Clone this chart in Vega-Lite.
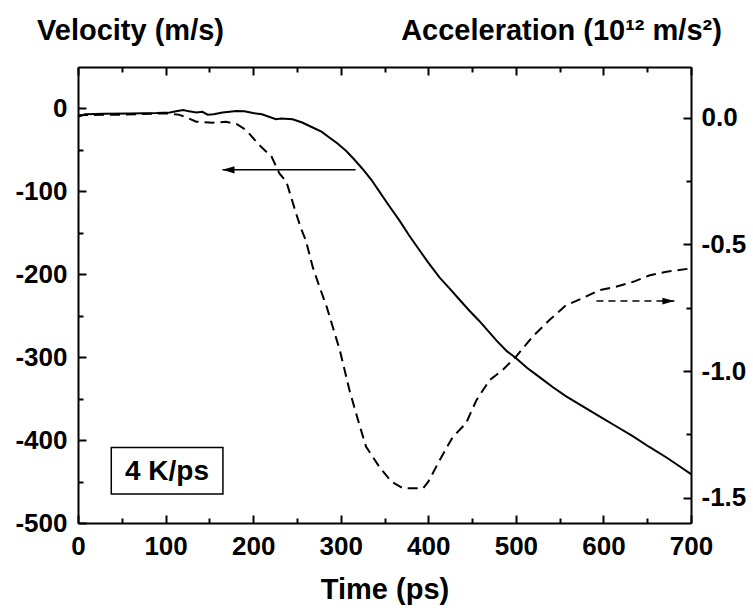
{
  "$schema": "https://vega.github.io/schema/vega-lite/v6.json",
  "width": 613,
  "height": 456,
  "autosize": {"type": "none"},
  "padding": {"left": 78, "top": 67, "right": 62, "bottom": 89},
  "background": "white",
  "config": {
    "view": {"stroke": null},
    "font": "Liberation Sans",
    "axis": {
      "grid": false,
      "ticks": true,
      "domainColor": "#000000",
      "domainWidth": 2,
      "tickColor": "#000000",
      "tickOpacity": 1,
      "tickWidth": 2,
      "zindex": 2,
      "labelFont": "Liberation Sans",
      "labelFontWeight": "bold",
      "labelFontSize": 26,
      "labelColor": "black",
      "labelFlush": false,
      "labelOverlap": false,
      "titleFont": "Liberation Sans",
      "titleFontWeight": "bold",
      "titleFontSize": 29,
      "titleColor": "black"
    }
  },
  "datasets": {
    "vel": [
      {"t": 0, "v": -10}, {"t": 8, "v": -7}, {"t": 30, "v": -6.5}, {"t": 60, "v": -6}, {"t": 90, "v": -5.5},
      {"t": 105, "v": -4.8}, {"t": 112, "v": -3.5}, {"t": 120, "v": -2}, {"t": 127, "v": -3.5}, {"t": 135, "v": -4.8},
      {"t": 142, "v": -4}, {"t": 148, "v": -7.5}, {"t": 155, "v": -7}, {"t": 165, "v": -5}, {"t": 181, "v": -3},
      {"t": 190, "v": -3.5}, {"t": 200, "v": -5.5}, {"t": 210, "v": -7}, {"t": 218, "v": -10}, {"t": 226, "v": -13},
      {"t": 232, "v": -12}, {"t": 245, "v": -13}, {"t": 256, "v": -17}, {"t": 268, "v": -23}, {"t": 278, "v": -28},
      {"t": 287, "v": -35}, {"t": 296, "v": -42}, {"t": 306, "v": -51}, {"t": 315, "v": -61}, {"t": 325, "v": -73},
      {"t": 335, "v": -86}, {"t": 344, "v": -100}, {"t": 355, "v": -117}, {"t": 367, "v": -135}, {"t": 378, "v": -153},
      {"t": 390, "v": -171}, {"t": 400, "v": -186}, {"t": 413, "v": -204}, {"t": 425, "v": -218}, {"t": 436, "v": -231},
      {"t": 447, "v": -244}, {"t": 458, "v": -256}, {"t": 468, "v": -268}, {"t": 478, "v": -280}, {"t": 490, "v": -293},
      {"t": 500, "v": -301}, {"t": 513, "v": -313}, {"t": 527, "v": -324}, {"t": 542, "v": -336}, {"t": 557, "v": -347},
      {"t": 576, "v": -359}, {"t": 595, "v": -371}, {"t": 614, "v": -383}, {"t": 633, "v": -395}, {"t": 652, "v": -408},
      {"t": 672, "v": -421}, {"t": 686, "v": -431}, {"t": 700, "v": -441}
    ],
    "acc": [
      {"t": 0, "a": 0.01}, {"t": 50, "a": 0.012}, {"t": 101, "a": 0.017}, {"t": 115, "a": 0.012}, {"t": 124, "a": 0.001},
      {"t": 135, "a": -0.016}, {"t": 154, "a": -0.02}, {"t": 169, "a": -0.016}, {"t": 181, "a": -0.025}, {"t": 192, "a": -0.049},
      {"t": 207, "a": -0.108}, {"t": 221, "a": -0.154}, {"t": 230, "a": -0.22}, {"t": 238, "a": -0.253}, {"t": 249, "a": -0.378},
      {"t": 255, "a": -0.44}, {"t": 260, "a": -0.483}, {"t": 268, "a": -0.589}, {"t": 275, "a": -0.66}, {"t": 284, "a": -0.747},
      {"t": 299, "a": -0.918}, {"t": 310, "a": -1.076}, {"t": 322, "a": -1.22}, {"t": 329, "a": -1.299}, {"t": 344, "a": -1.378},
      {"t": 358, "a": -1.437}, {"t": 371, "a": -1.463}, {"t": 394, "a": -1.463}, {"t": 400, "a": -1.437}, {"t": 413, "a": -1.352},
      {"t": 428, "a": -1.26}, {"t": 443, "a": -1.207}, {"t": 455, "a": -1.115}, {"t": 470, "a": -1.036}, {"t": 485, "a": -0.996},
      {"t": 500, "a": -0.944}, {"t": 519, "a": -0.865}, {"t": 538, "a": -0.8}, {"t": 557, "a": -0.741}, {"t": 576, "a": -0.713},
      {"t": 595, "a": -0.681}, {"t": 614, "a": -0.668}, {"t": 634, "a": -0.648}, {"t": 653, "a": -0.622}, {"t": 672, "a": -0.608},
      {"t": 700, "a": -0.595}
    ],
    "arrowL": [{"from": 317, "to": 165, "y": -74}],
    "arrowR": [{"from": 592, "to": 681, "y": -0.724}],
    "box": [{"x1": 38, "x2": 165.5, "y1": -408.8, "y2": -465.1, "xc": 101.6, "yc": -438.6, "label": "4 K/ps"}]
  },
  "layer": [
    {
      "data": {"name": "vel"},
      "mark": {"type": "line", "color": "black", "strokeWidth": 2},
      "encoding": {
        "x": {"field": "t", "type": "quantitative",
          "scale": {"domain": [0, 700], "nice": false, "zero": false},
          "axis": {"orient": "bottom", "values": [0, 100, 200, 300, 400, 500, 600, 700], "offset": -8, "ticks": true, "tickSize": 8, "tickColor": "#000000", "tickWidth": 2, "domain": false, "labelPadding": 10,
            "title": "Time (ps)", "titleY": 74, "titleBaseline": "middle"}},
        "y": {"field": "v", "type": "quantitative",
          "scale": {"domain": [-500, 50], "nice": false, "zero": false},
          "axis": {"orient": "left", "values": [-500, -400, -300, -200, -100, 0], "offset": -8, "ticks": true, "tickSize": 8, "tickColor": "#000000", "tickWidth": 2, "domain": false, "labelPadding": 11,
            "labelExpr": "replace(datum.label, '\u2212', '-')",
            "title": "Velocity (m/s)", "titleAngle": 0, "titleX": 44, "titleY": -37, "titleAlign": "center", "titleBaseline": "middle"}}
      }
    },
    {
      "data": {"name": "acc"},
      "mark": {"type": "line", "color": "black", "strokeWidth": 2, "strokeDash": [10, 6]},
      "encoding": {
        "x": {"field": "t", "type": "quantitative",
          "scale": {"domain": [0, 700], "nice": false, "zero": false},
          "axis": {"orient": "top", "values": [0, 100, 200, 300, 400, 500, 600, 700], "offset": -8, "ticks": true, "tickSize": 8, "tickColor": "#000000", "tickWidth": 2, "domain": false, "labels": false, "title": null}},
        "y": {"field": "a", "type": "quantitative",
          "scale": {"domain": [-1.6, 0.2], "nice": false, "zero": false},
          "axis": {"orient": "right", "values": [-1.5, -1.0, -0.5, 0.0], "format": ".1f", "offset": -8, "ticks": true, "tickSize": 8, "tickColor": "#000000", "tickWidth": 2, "domain": false, "labelPadding": 10,
            "labelExpr": "replace(datum.label, '\u2212', '-')",
            "title": "Acceleration (10\u00b9\u00b2 m/s\u00b2)", "titleAngle": 0, "titleX": -122, "titleY": -37, "titleAlign": "center", "titleBaseline": "middle"}}
      }
    },
    {
      "data": {"name": "arrowL"},
      "mark": {"type": "rule", "color": "black", "strokeWidth": 1.5},
      "encoding": {
        "x": {"field": "from", "type": "quantitative",
          "scale": {"domain": [0, 700], "nice": false, "zero": false},
          "axis": {"orient": "bottom", "values": [50, 150, 250, 350, 450, 550, 650], "offset": -5, "ticks": true, "tickSize": 5, "tickColor": "#000000", "tickWidth": 2, "domain": false, "labels": false, "title": null}},
        "x2": {"field": "to"},
        "y": {"field": "y", "type": "quantitative",
          "scale": {"domain": [-500, 50], "nice": false, "zero": false},
          "axis": {"orient": "left", "values": [-450, -350, -250, -150, -50], "offset": -5, "ticks": true, "tickSize": 5, "tickColor": "#000000", "tickWidth": 2, "domain": false, "labels": false, "title": null}}
      }
    },
    {
      "data": {"name": "arrowR"},
      "mark": {"type": "rule", "color": "black", "strokeWidth": 1.5, "strokeDash": [7, 5]},
      "encoding": {
        "x": {"field": "from", "type": "quantitative",
          "scale": {"domain": [0, 700], "nice": false, "zero": false},
          "axis": {"orient": "top", "values": [50, 150, 250, 350, 450, 550, 650], "offset": -5, "ticks": true, "tickSize": 5, "tickColor": "#000000", "tickWidth": 2, "domain": false, "labels": false, "title": null}},
        "x2": {"field": "to"},
        "y": {"field": "y", "type": "quantitative",
          "scale": {"domain": [-1.6, 0.2], "nice": false, "zero": false},
          "axis": {"orient": "right", "values": [-1.25, -0.75, -0.25], "offset": -5, "ticks": true, "tickSize": 5, "tickColor": "#000000", "tickWidth": 2, "domain": false, "labels": false, "title": null}}
      }
    },
    {
      "data": {"name": "arrowL"},
      "mark": {"type": "point", "filled": true, "color": "black", "opacity": 1, "size": 36, "shape": "M 0 0 L 4 -1.2 L 4 1.2 Z", "strokeWidth": 0},
      "encoding": {
        "x": {"field": "to", "type": "quantitative", "scale": {"domain": [0, 700], "nice": false, "zero": false},
          "axis": {"orient": "bottom", "ticks": false, "labels": false, "domain": true, "title": null, "values": [0]}},
        "y": {"field": "y", "type": "quantitative", "scale": {"domain": [-500, 50], "nice": false, "zero": false},
          "axis": {"orient": "left", "ticks": false, "labels": false, "domain": true, "title": null, "values": [0]}}
      }
    },
    {
      "data": {"name": "arrowR"},
      "mark": {"type": "point", "filled": true, "color": "black", "opacity": 1, "size": 36, "shape": "M 0 0 L -4 -1.1 L -4 1.1 Z", "strokeWidth": 0},
      "encoding": {
        "x": {"field": "to", "type": "quantitative", "scale": {"domain": [0, 700], "nice": false, "zero": false},
          "axis": {"orient": "top", "ticks": false, "labels": false, "domain": true, "title": null, "values": [0]}},
        "y": {"field": "y", "type": "quantitative", "scale": {"domain": [-1.6, 0.2], "nice": false, "zero": false},
          "axis": {"orient": "right", "ticks": false, "labels": false, "domain": true, "title": null, "values": [0]}}
      }
    },
    {
      "data": {"name": "box"},
      "mark": {"type": "rect", "fill": "white", "stroke": "black", "strokeWidth": 1.5},
      "encoding": {
        "x": {"field": "x1", "type": "quantitative", "scale": {"domain": [0, 700], "nice": false, "zero": false}, "axis": null},
        "x2": {"field": "x2"},
        "y": {"field": "y1", "type": "quantitative", "scale": {"domain": [-500, 50], "nice": false, "zero": false}, "axis": null},
        "y2": {"field": "y2"}
      }
    },
    {
      "data": {"name": "box"},
      "mark": {"type": "text", "font": "Liberation Sans", "fontWeight": "bold", "fontSize": 28, "color": "black", "align": "center", "baseline": "middle"},
      "encoding": {
        "x": {"field": "xc", "type": "quantitative", "scale": {"domain": [0, 700], "nice": false, "zero": false}, "axis": null},
        "y": {"field": "yc", "type": "quantitative", "scale": {"domain": [-500, 50], "nice": false, "zero": false}, "axis": null},
        "text": {"field": "label"}
      }
    }
  ],
  "resolve": {
    "scale": {"x": "independent", "y": "independent"},
    "axis": {"x": "independent", "y": "independent"}
  }
}
